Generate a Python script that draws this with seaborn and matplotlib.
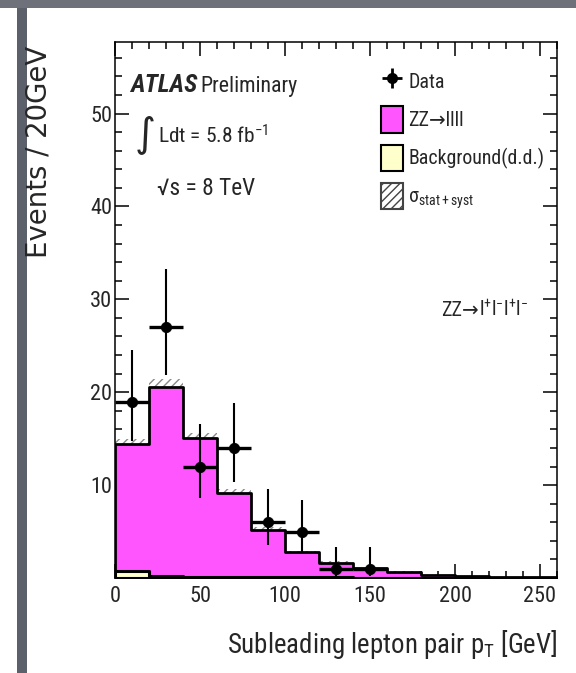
import numpy as np
import pandas as pd
import matplotlib
matplotlib.use("Agg")
import matplotlib.pyplot as plt
import seaborn as sns
from matplotlib import font_manager
from matplotlib.patches import Rectangle, Patch
from matplotlib.ticker import MultipleLocator

# ---------------- data ----------------
bin_edges = [0, 20, 40, 60, 80, 100, 120, 140, 160, 180, 200, 220, 240, 260]
zz_signal = [13.7, 20.4, 14.9, 9.1, 5.1, 2.7, 1.6, 1.0, 0.6, 0.25, 0.15, 0.1, 0.05]
background = [0.7, 0.2, 0.15, 0.1, 0.1, 0.08, 0.06, 0.05, 0.04, 0.03, 0.02, 0.02, 0.01]
syst_unc = [0.55, 0.85, 0.6, 0.4, 0.25, 0.18, 0.12, 0.08, 0.06, 0.04, 0.03, 0.02, 0.02]
data_x = [10, 30, 50, 70, 90, 110, 130, 150]
data_y = [19, 27, 12, 14, 6, 5, 1, 1]
data_err_lo = [4.3, 5.2, 3.4, 3.7, 2.4, 2.2, 0.8, 0.8]
data_err_hi = [5.5, 6.3, 4.6, 4.8, 3.6, 3.4, 2.3, 2.3]
x_ticks = [0, 50, 100, 150, 200, 250]
y_ticks = [10, 20, 30, 40, 50]
legend_labels = ["Data", "ZZ→llll", "Background(d.d.)", r"σ$_{\mathregular{stat+syst}}$"]

# ---------------- fonts ----------------
sns.set_theme(style="white")
names = {f.name for f in font_manager.fontManager.ttflist}
narrow = "Liberation Sans"
for cand in ["Liberation Sans Narrow", "Arial Narrow", "Nimbus Sans Narrow", "Roboto Condensed",
             "Archivo Narrow", "PT Sans Narrow", "Fira Sans Condensed",
             "IBM Plex Sans Condensed", "Asap Condensed", "Encode Sans Condensed"]:
    if cand in names:
        narrow = cand
        break
plt.rcParams["font.family"] = [narrow, "DejaVu Sans"]
plt.rcParams["mathtext.fontset"] = "custom"
plt.rcParams["mathtext.rm"] = narrow
plt.rcParams["mathtext.it"] = narrow
plt.rcParams["mathtext.bf"] = narrow
plt.rcParams["mathtext.fallback"] = "stixsans"

W, H = 576, 673
fig = plt.figure(figsize=(W / 100, H / 100), dpi=100)
fig.patch.set_facecolor("white")
renderer = fig.canvas.get_renderer()


def fx(px):
    return px / W


def fy(py):
    return 1 - py / H


def fit_size(s, target_px, base=20, **kw):
    t = fig.text(0.5, 0.5, s, fontsize=base, **kw)
    w = t.get_window_extent(renderer).width
    t.remove()
    return base * target_px / w


# slide background decorations
fig.add_artist(Rectangle((0, 1 - 8 / H), 1, 8 / H, transform=fig.transFigure,
                         facecolor="#6e7179", edgecolor="none", zorder=0))
fig.add_artist(Rectangle((17 / W, 0), 10 / W, 1 - 8 / H, transform=fig.transFigure,
                         facecolor="#5c606b", edgecolor="none", zorder=0))

ax = fig.add_axes([115 / W, 1 - 578 / H, (557 - 115) / W, (578 - 42) / H])
ax.set_facecolor("white")

edges = np.array(bin_edges)
centers = (edges[:-1] + edges[1:]) / 2
zz = np.array(zz_signal)
bg = np.array(background)
tot = zz + bg
unc = np.array(syst_unc)

# uncertainty band (behind the fill so only the upper half shows)
ax.bar(centers, 2 * unc, bottom=tot - unc, width=20, fill=False, hatch="////",
       edgecolor="#8a8a8a", linewidth=0, zorder=1)

df_tot = pd.DataFrame({"pt": centers, "w": tot})
df_bg = pd.DataFrame({"pt": centers, "w": bg})
sns.histplot(data=df_tot, x="pt", weights="w", bins=list(bin_edges), element="step", fill=True,
             color="#ff55ff", alpha=1, edgecolor="black", linewidth=2.0, ax=ax, zorder=2)
sns.histplot(data=df_bg, x="pt", weights="w", bins=list(bin_edges), element="step", fill=True,
             color="#ffffcc", alpha=1, edgecolor="black", linewidth=2.2, ax=ax, zorder=3)

# data points
dy = np.array([data_err_lo, data_err_hi])
ax.errorbar(data_x, data_y, xerr=10, fmt="none", ecolor="black", elinewidth=2.4, zorder=5)
ax.errorbar(data_x, data_y, yerr=dy, fmt="none", ecolor="black", elinewidth=1.5, zorder=5)
sns.scatterplot(x=data_x, y=data_y, color="black", s=55, edgecolor="black", ax=ax, zorder=6)

tick_fs = fit_size("250", 33)
ax.set_xlim(0, 260)
ax.set_ylim(0, 57.7)
ax.set_xlabel("")
ax.set_ylabel("")
ax.set_xticks(x_ticks)
ax.set_yticks(y_ticks)
ax.xaxis.set_minor_locator(MultipleLocator(10))
ax.yaxis.set_minor_locator(MultipleLocator(2))
ax.tick_params(which="both", direction="in", top=True, right=True, bottom=True, left=True,
               color="black", labelsize=tick_fs, width=1.1)
ax.tick_params(which="major", length=10)
ax.tick_params(which="minor", length=5)
ax.tick_params(axis="x", which="major", pad=6)
ax.tick_params(axis="y", which="major", pad=2)
for s in ax.spines.values():
    s.set_visible(True)
    s.set_color("black")
    s.set_linewidth(1.1)

# texts
atlas_fs = fit_size("ATLAS", 67, fontweight="bold", style="italic")
fig.text(fx(130), fy(92), "ATLAS", fontsize=atlas_fs, fontweight="bold", style="italic",
         va="baseline", ha="left")
fig.text(fx(200), fy(92), "Preliminary", fontsize=fit_size("Preliminary", 97),
         va="baseline", ha="left")
fig.text(fx(145), fy(134), "∫", fontsize=29, va="center", ha="center",
         family=["DejaVu Sans"])
s_ldt = r"Ldt = 5.8 fb$^{\mathregular{-1}}$"
fig.text(fx(158), fy(143), s_ldt, fontsize=fit_size(s_ldt, 110), va="baseline", ha="left")
fig.text(fx(157), fy(195), "√s = 8 TeV", fontsize=fit_size("√s = 8 TeV", 98),
         va="baseline", ha="left")

# legend
leg_fs = fit_size("Background(d.d.)", 136)
fpx = leg_fs * 100 / 72

# channel label: plain part then superscripted leptons
t_zz = fig.text(fx(441), fy(316), "ZZ→", fontsize=leg_fs, va="baseline", ha="left")
w_zz = t_zz.get_window_extent(renderer).width
fig.text(fx(441 + w_zz), fy(316),
         r"l$^{\mathregular{+}}$l$^{\mathregular{-}}$l$^{\mathregular{+}}$l$^{\mathregular{-}}$",
         fontsize=leg_fs, va="baseline", ha="left")

yfam = ["DejaVu Sans"]
ylab_fs = fit_size("Events / 20GeV", 212, family=yfam)
fig.text(fx(39), fy(46), "Events / 20GeV", rotation=90, fontsize=ylab_fs, va="top",
         ha="center", family=yfam)
s_xl = r"Subleading lepton pair p$_{\mathregular{T}}$ [GeV]"
fig.text(fx(557), fy(653), s_xl, fontsize=fit_size(s_xl, 330), va="baseline", ha="right")

h_data = ax.errorbar([np.nan], [np.nan], xerr=[[1]], yerr=[[1]], fmt="o", color="black",
                     ms=7, elinewidth=2, capsize=0)
h_zz = Patch(facecolor="#ff55ff", edgecolor="black", linewidth=1.5)
h_bg = Patch(facecolor="#ffffcc", edgecolor="black", linewidth=1.5)
h_unc = Patch(facecolor="white", edgecolor="#444444", hatch="////", linewidth=1.5)
leg = ax.legend([h_data, h_zz, h_bg, h_unc], legend_labels,
                loc="upper left", bbox_to_anchor=(fx(381), fy(68)),
                bbox_transform=fig.transFigure, frameon=False, fontsize=leg_fs,
                handlelength=22 / fpx, handleheight=33 / fpx, labelspacing=12 / fpx,
                handletextpad=5 / fpx, borderpad=0, borderaxespad=0)

fig.savefig("out.png", dpi=100)
